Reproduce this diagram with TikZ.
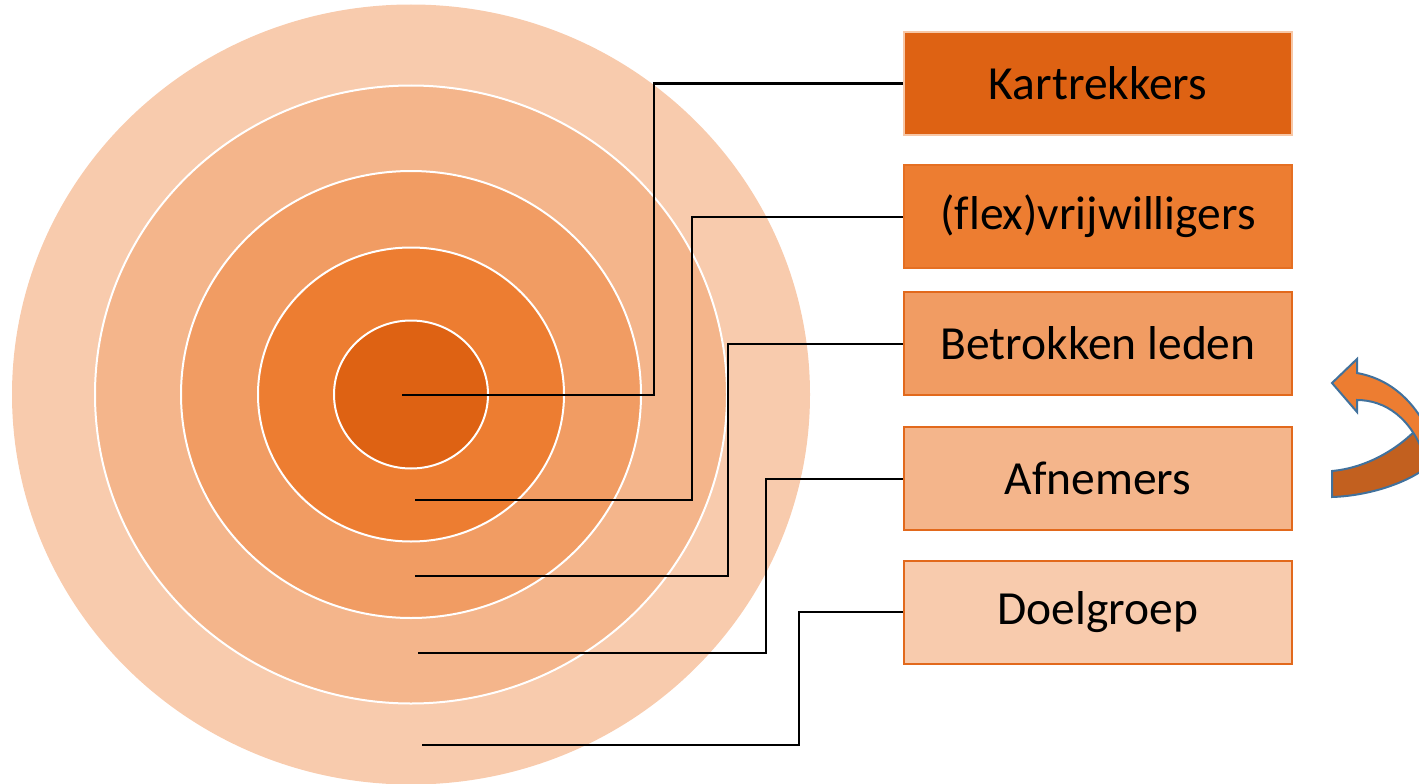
\documentclass[tikz,border=0pt]{standalone}
\usepackage{fontspec}
\setmainfont[Ligatures=NoCommon]{Carlito}
\definecolor{ring1}{HTML}{F8CBAD}
\definecolor{ring2}{HTML}{F4B58B}
\definecolor{ring3}{HTML}{F19C63}
\definecolor{ring4}{HTML}{ED7D31}
\definecolor{ring5}{HTML}{DE6213}
\definecolor{boxedge}{HTML}{E2691C}
\definecolor{arrowfront}{HTML}{ED7D31}
\definecolor{arrowback}{HTML}{C2601F}
\definecolor{arrowline}{HTML}{41719C}
\tikzset{
  ringshape/.style={draw=white, line width=2pt},
  labelbox/.style={rectangle, minimum width=388pt, minimum height=103pt, inner sep=0pt,
    line width=2pt, font=\fontsize{47.5}{56}\selectfont, text=black},
  leader/.style={draw=black, line width=2pt},
  curvedarrow/.style={draw=arrowline, line width=2pt, line join=miter}
}
\begin{document}
\begin{tikzpicture}[x=1pt, y=-1pt]
\useasboundingbox (0,0) rectangle (1419,784);
\begin{scope}
\clip (0,0) rectangle (1419,784);
% concentric rings
\fill[ring1] (411,394.5) ellipse [x radius=399, y radius=390];
\path[ringshape, fill=ring2] (411,394.5) ellipse [x radius=316, y radius=309];
\path[ringshape, fill=ring3] (411,394.5) ellipse [x radius=230, y radius=223.5];
\path[ringshape, fill=ring4] (411,394.5) ellipse [x radius=153, y radius=147];
\path[ringshape, fill=ring5] (411,394.5) ellipse [x radius=77, y radius=74];

% label boxes
\node[labelbox, fill=ring5, draw=ring1!80!ring2] (kart) at (1098,83.5) {Kartrekkers};
\node[labelbox, fill=ring4, draw=boxedge!70!ring4] (flex) at (1098,216.5) {(flex)vrijwilligers};
\node[labelbox, fill=ring3, draw=boxedge] (betr) at (1098,343.5) {Betrokken leden};
\node[labelbox, fill=ring2, draw=boxedge] (afn) at (1098,478.5) {Afnemers};
\node[labelbox, fill=ring1, draw=boxedge] (doel) at (1098,612) {Doelgroep};

% leader start points
\coordinate (s1) at (402,395);
\coordinate (s2) at (415,500);
\coordinate (s3) at (415,576);
\coordinate (s4) at (418,652.5);
\coordinate (s5) at (422,745);

\draw[leader] (s1) -- ++(252,0) |- (kart.west);
\draw[leader] (s2) -- ++(277,0) |- (flex.west);
\draw[leader] (s3) -- ++(313,0) |- (betr.west);
\draw[leader] (s4) -- ++(348,0) |- (afn.west);
\draw[leader] (s5) -- ++(377,0) |- (doel.west);

% curved arrow (cut by the right edge)
\path[curvedarrow, fill=arrowback] (1332,497) -- (1332,471)
  .. controls (1365,468) and (1400,450) .. (1425,420) -- (1450,420) -- (1450,465) -- (1430,465)
  .. controls (1405,485) and (1365,496) .. (1332,497) -- cycle;
\path[curvedarrow, fill=arrowfront] (1332,383) -- (1357,359) -- (1357,373)
  .. controls (1385,378) and (1410,395) .. (1428,430) -- (1450,430) -- (1450,458) -- (1425,458)
  .. controls (1412,418) and (1385,400) .. (1357,400) -- (1357,412) -- cycle;
\end{scope}
\end{tikzpicture}
\end{document}
